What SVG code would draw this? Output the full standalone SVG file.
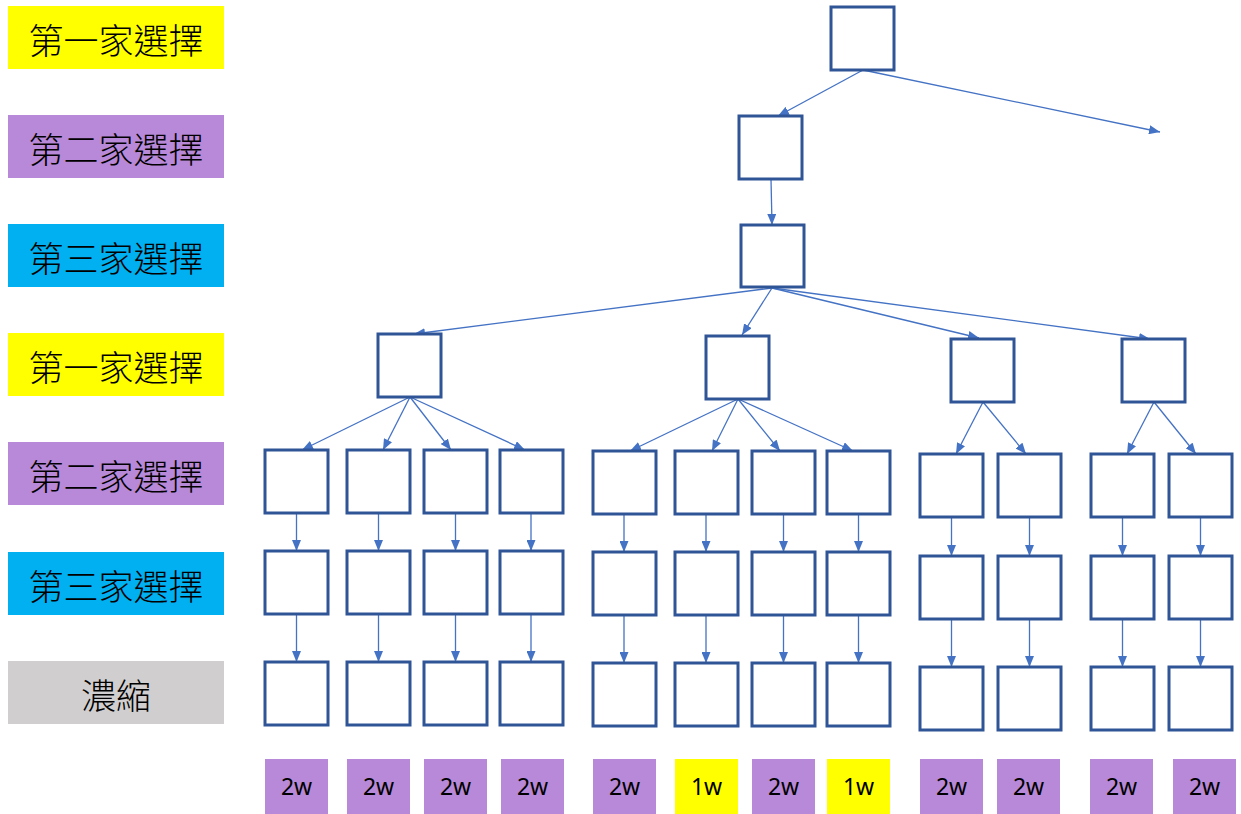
<svg xmlns="http://www.w3.org/2000/svg" width="1241" height="814" viewBox="0 0 1241 814">
  <style>
    .node { fill: #FFFFFF; stroke: #2F5597; stroke-width: 3; }
    .edge { stroke: #4472C4; stroke-width: 1.3; fill: none; marker-end: url(#arrow); }
    .lab { font-family: "Noto Sans CJK TC", "Noto Sans CJK SC", sans-serif; font-size: 35px; font-weight: 300; fill: #000; text-anchor: middle; dominant-baseline: central; }
    .tag { font-family: "Noto Sans", "Open Sans", sans-serif; font-size: 23px; fill: #000; text-anchor: middle; dominant-baseline: central; }
    .yellow { fill: #FFFF00; }
    .purple { fill: #B889D8; }
    .cyan { fill: #00B0F0; }
    .gray { fill: #D0CECE; }
  </style>
  <defs>
    <marker id="arrow" viewBox="0 0 11 9" refX="11" refY="4.5" markerWidth="11" markerHeight="9" markerUnits="userSpaceOnUse" orient="auto">
      <path d="M0,0 L11,4.5 L0,9 z" fill="#4472C4"/>
    </marker>
  </defs>
  <rect width="1241" height="814" fill="#FFFFFF"/>

  <!-- row labels -->
  <g id="row-labels">
    <g id="row1"><rect class="yellow" x="8" y="6" width="216" height="63"/><text class="lab" x="116" y="38">第一家選擇</text></g>
    <g id="row2"><rect class="purple" x="8" y="115" width="216" height="63"/><text class="lab" x="116" y="147">第二家選擇</text></g>
    <g id="row3"><rect class="cyan" x="8" y="224" width="216" height="63"/><text class="lab" x="116" y="256">第三家選擇</text></g>
    <g id="row4"><rect class="yellow" x="8" y="333" width="216" height="63"/><text class="lab" x="116" y="365">第一家選擇</text></g>
    <g id="row5"><rect class="purple" x="8" y="442" width="216" height="63"/><text class="lab" x="116" y="474">第二家選擇</text></g>
    <g id="row6"><rect class="cyan" x="8" y="552" width="216" height="63"/><text class="lab" x="116" y="584">第三家選擇</text></g>
    <g id="row7"><rect class="gray" x="8" y="661" width="216" height="63"/><text class="lab" x="116" y="693">濃縮</text></g>
  </g>

  <!-- connectors -->
  <g id="connectors">
    <line class="edge" x1="863" y1="70" x2="778" y2="116"/>
    <line class="edge" x1="863" y1="70" x2="1160" y2="132"/>
    <line class="edge" x1="771" y1="179" x2="772" y2="225"/>

    <line class="edge" x1="772" y1="288" x2="414" y2="334"/>
    <line class="edge" x1="772" y1="288" x2="742" y2="335"/>
    <line class="edge" x1="772" y1="288" x2="979" y2="338"/>
    <line class="edge" x1="772" y1="288" x2="1150" y2="339"/>

    <line class="edge" x1="410" y1="397" x2="302" y2="450"/>
    <line class="edge" x1="410" y1="397" x2="383" y2="450"/>
    <line class="edge" x1="410" y1="397" x2="451" y2="450"/>
    <line class="edge" x1="410" y1="397" x2="525" y2="450"/>

    <line class="edge" x1="738" y1="399" x2="630" y2="451"/>
    <line class="edge" x1="738" y1="399" x2="712" y2="451"/>
    <line class="edge" x1="738" y1="399" x2="780" y2="451"/>
    <line class="edge" x1="738" y1="399" x2="853" y2="451"/>

    <line class="edge" x1="983" y1="402" x2="956" y2="454"/>
    <line class="edge" x1="983" y1="402" x2="1026" y2="454"/>
    <line class="edge" x1="1154" y1="402" x2="1127" y2="454"/>
    <line class="edge" x1="1154" y1="402" x2="1196" y2="454"/>

    <line class="edge" x1="296.5" y1="513" x2="296.5" y2="551"/>
    <line class="edge" x1="378.5" y1="513" x2="378.5" y2="551"/>
    <line class="edge" x1="455.5" y1="513" x2="455.5" y2="551"/>
    <line class="edge" x1="531" y1="513" x2="531" y2="551"/>
    <line class="edge" x1="296.5" y1="614" x2="296.5" y2="662"/>
    <line class="edge" x1="378.5" y1="614" x2="378.5" y2="662"/>
    <line class="edge" x1="455.5" y1="614" x2="455.5" y2="662"/>
    <line class="edge" x1="531" y1="614" x2="531" y2="662"/>

    <line class="edge" x1="624" y1="514" x2="624" y2="552"/>
    <line class="edge" x1="706" y1="514" x2="706" y2="552"/>
    <line class="edge" x1="783.5" y1="514" x2="783.5" y2="552"/>
    <line class="edge" x1="858.5" y1="514" x2="858.5" y2="552"/>
    <line class="edge" x1="624" y1="615" x2="624" y2="663"/>
    <line class="edge" x1="706" y1="615" x2="706" y2="663"/>
    <line class="edge" x1="783.5" y1="615" x2="783.5" y2="663"/>
    <line class="edge" x1="858.5" y1="615" x2="858.5" y2="663"/>

    <line class="edge" x1="951.5" y1="517" x2="951.5" y2="556"/>
    <line class="edge" x1="1029.5" y1="517" x2="1029.5" y2="556"/>
    <line class="edge" x1="1122.5" y1="517" x2="1122.5" y2="556"/>
    <line class="edge" x1="1200.5" y1="517" x2="1200.5" y2="556"/>
    <line class="edge" x1="951.5" y1="619" x2="951.5" y2="667"/>
    <line class="edge" x1="1029.5" y1="619" x2="1029.5" y2="667"/>
    <line class="edge" x1="1122.5" y1="619" x2="1122.5" y2="667"/>
    <line class="edge" x1="1200.5" y1="619" x2="1200.5" y2="667"/>
  </g>

  <!-- tree nodes -->
  <g id="n-root"><rect class="node" x="831" y="7" width="63" height="63"/></g>
  <g id="n-l2"><rect class="node" x="739" y="116" width="63" height="63"/></g>
  <g id="n-l3"><rect class="node" x="741" y="225" width="63" height="62"/></g>

  <g id="n-a"><rect class="node" x="378" y="334" width="63" height="63"/></g>
  <g id="n-b"><rect class="node" x="706" y="336" width="63" height="63"/></g>
  <g id="n-c"><rect class="node" x="951" y="339" width="63" height="63"/></g>
  <g id="n-d"><rect class="node" x="1122" y="339" width="63" height="63"/></g>

  <!-- group A -->
  <g id="n-a1"><rect class="node" x="265" y="450" width="63" height="63"/><rect class="node" x="265" y="551" width="63" height="63"/><rect class="node" x="265" y="662" width="63" height="63"/></g>
  <g id="n-a2"><rect class="node" x="347" y="450" width="63" height="63"/><rect class="node" x="347" y="551" width="63" height="63"/><rect class="node" x="347" y="662" width="63" height="63"/></g>
  <g id="n-a3"><rect class="node" x="424" y="450" width="63" height="63"/><rect class="node" x="424" y="551" width="63" height="63"/><rect class="node" x="424" y="662" width="63" height="63"/></g>
  <g id="n-a4"><rect class="node" x="500" y="450" width="63" height="63"/><rect class="node" x="500" y="551" width="63" height="63"/><rect class="node" x="500" y="662" width="63" height="63"/></g>

  <!-- group B -->
  <g id="n-b1"><rect class="node" x="593" y="451" width="63" height="63"/><rect class="node" x="593" y="552" width="63" height="63"/><rect class="node" x="593" y="663" width="63" height="63"/></g>
  <g id="n-b2"><rect class="node" x="675" y="451" width="63" height="63"/><rect class="node" x="675" y="552" width="63" height="63"/><rect class="node" x="675" y="663" width="63" height="63"/></g>
  <g id="n-b3"><rect class="node" x="752" y="451" width="63" height="63"/><rect class="node" x="752" y="552" width="63" height="63"/><rect class="node" x="752" y="663" width="63" height="63"/></g>
  <g id="n-b4"><rect class="node" x="827" y="451" width="63" height="63"/><rect class="node" x="827" y="552" width="63" height="63"/><rect class="node" x="827" y="663" width="63" height="63"/></g>

  <!-- group C -->
  <g id="n-c1"><rect class="node" x="920" y="454" width="63" height="63"/><rect class="node" x="920" y="556" width="63" height="63"/><rect class="node" x="920" y="667" width="63" height="63"/></g>
  <g id="n-c2"><rect class="node" x="998" y="454" width="63" height="63"/><rect class="node" x="998" y="556" width="63" height="63"/><rect class="node" x="998" y="667" width="63" height="63"/></g>

  <!-- group D -->
  <g id="n-d1"><rect class="node" x="1091" y="454" width="63" height="63"/><rect class="node" x="1091" y="556" width="63" height="63"/><rect class="node" x="1091" y="667" width="63" height="63"/></g>
  <g id="n-d2"><rect class="node" x="1169" y="454" width="63" height="63"/><rect class="node" x="1169" y="556" width="63" height="63"/><rect class="node" x="1169" y="667" width="63" height="63"/></g>

  <!-- weights -->
  <g id="weights">
    <g id="w1"><rect class="purple" x="265" y="759" width="63" height="55"/><text class="tag" x="296.5" y="786">2w</text></g>
    <g id="w2"><rect class="purple" x="347" y="759" width="63" height="55"/><text class="tag" x="378.5" y="786">2w</text></g>
    <g id="w3"><rect class="purple" x="424" y="759" width="63" height="55"/><text class="tag" x="455.5" y="786">2w</text></g>
    <g id="w4"><rect class="purple" x="501" y="759" width="63" height="55"/><text class="tag" x="532.5" y="786">2w</text></g>
    <g id="w5"><rect class="purple" x="593" y="759" width="63" height="55"/><text class="tag" x="624.5" y="786">2w</text></g>
    <g id="w6"><rect class="yellow" x="675" y="759" width="63" height="55"/><text class="tag" x="706.5" y="786">1w</text></g>
    <g id="w7"><rect class="purple" x="752" y="759" width="63" height="55"/><text class="tag" x="783.5" y="786">2w</text></g>
    <g id="w8"><rect class="yellow" x="827" y="759" width="63" height="55"/><text class="tag" x="858.5" y="786">1w</text></g>
    <g id="w9"><rect class="purple" x="920" y="759" width="63" height="55"/><text class="tag" x="951.5" y="786">2w</text></g>
    <g id="w10"><rect class="purple" x="997" y="759" width="63" height="55"/><text class="tag" x="1028.5" y="786">2w</text></g>
    <g id="w11"><rect class="purple" x="1090" y="759" width="63" height="55"/><text class="tag" x="1121.5" y="786">2w</text></g>
    <g id="w12"><rect class="purple" x="1173" y="759" width="63" height="55"/><text class="tag" x="1204.5" y="786">2w</text></g>
  </g>
</svg>
